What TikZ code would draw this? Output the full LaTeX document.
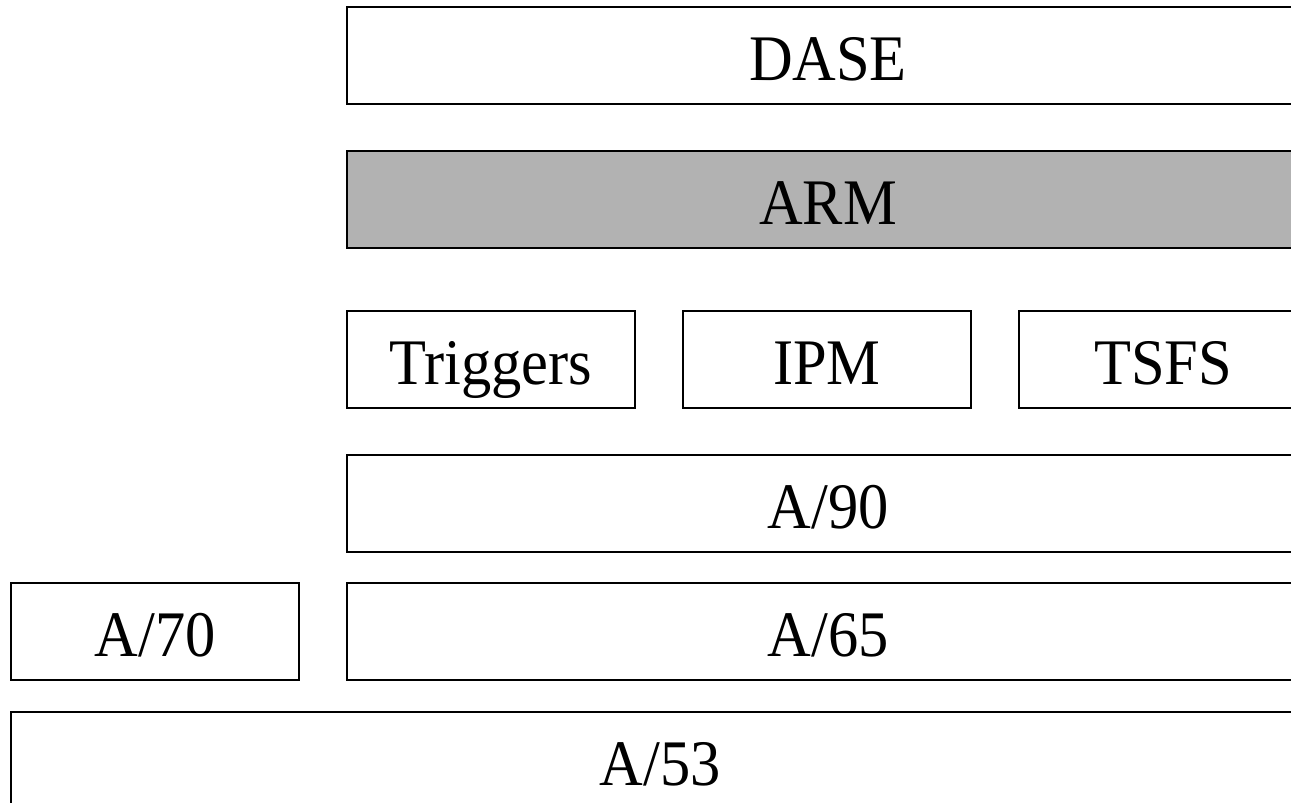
\documentclass[tikz,border=0pt]{standalone}
\usepackage{graphicx}
\usepackage{fontspec}
\setmainfont{Liberation Serif}
\newcommand{\sqz}[1]{\scalebox{0.93}[1]{#1}}
\begin{document}
\begin{tikzpicture}[x=1pt,y=-1pt,
  blk/.style={draw=black,line width=2pt,rectangle,anchor=north west,inner sep=0pt,
    minimum height=97pt,text height=49pt,text depth=0pt,font=\fontsize{65}{65}\selectfont},
  graybox/.style={blk,fill=black!30}]
\useasboundingbox (0,0) rectangle (1291,803);
\clip (0,0) rectangle (1291,803);
\node[blk,minimum width=962pt] (dase) at (346,6) {\sqz{DASE}};
\node[graybox,minimum width=962pt] (arm) at (346,150) {\sqz{ARM}};
\node[blk,minimum width=288pt] (trig) at (346,310) {\sqz{Triggers}};
\node[blk,minimum width=288pt] (ipm) at (682,310) {\sqz{IPM}};
\node[blk,minimum width=288pt] (tsfs) at (1018,310) {\sqz{TSFS}};
\node[blk,minimum width=962pt] (a90) at (346,454) {\sqz{A/90}};
\node[blk,minimum width=288pt] (a70) at (10,582) {\sqz{A/70}};
\node[blk,minimum width=962pt] (a65) at (346,582) {\sqz{A/65}};
\node[blk,minimum width=1298pt] (a53) at (10,711) {\sqz{A/53}};
\end{tikzpicture}
\end{document}
